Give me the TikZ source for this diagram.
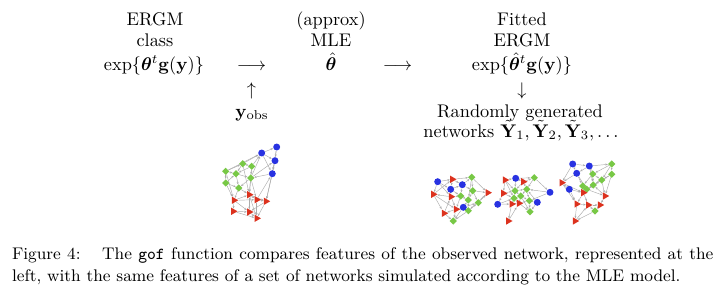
\RequirePackage{fix-cm}
\documentclass[tikz,border=0pt]{standalone}
\usepackage{amsmath,bm}
\usetikzlibrary{shapes.geometric,arrows.meta,backgrounds}
\definecolor{nblue}{RGB}{40,50,225}
\definecolor{ngreen}{RGB}{120,200,70}
\definecolor{nred}{RGB}{220,50,30}
\tikzset{
  bn/.style={circle,fill=nblue,inner sep=0pt,minimum size=3.8pt},
  gn/.style={diamond,fill=ngreen,inner sep=0pt,minimum size=4.1pt},
  rn/.style={regular polygon,regular polygon sides=3,shape border rotate=-90,fill=nred,inner sep=0pt,minimum size=4.6pt},
  netedge/.style={draw=gray!65,line width=0.25pt,-{Stealth[length=1.4pt,width=1.1pt]}},
  lbl/.style={inner sep=0pt,anchor=base},
  captxt/.style={inner sep=0pt,anchor=base west,font=\fontsize{9.2}{11}\selectfont},
}
\begin{document}
\begin{tikzpicture}[x=0.5464pt,y=-0.5464pt]
\useasboundingbox (0,0) rectangle (720,298);
% ---- text rows
\node[lbl] (c1a) at (155,25) {ERGM};
\node[lbl] (c1b) at (155,46.7) {class};
\node[lbl] (c1c) at (154,70) {$\exp\{\bm{\theta}^t\mathbf{g}(\mathbf{y})\}$};
\node[lbl] (ar1) at (251.5,70) {$\longrightarrow$};
\node[lbl] (up1) at (251.5,95) {$\uparrow$};
\node[lbl] (yobs) at (252,117) {$\mathbf{y}_{\mathrm{obs}}$};
\node[lbl] (c2a) at (331,25) {(approx)};
\node[lbl] (c2b) at (331,46.7) {MLE};
\node[lbl] (c2c) at (331,70) {$\hat{\bm{\theta}}$};
\node[lbl] (ar2) at (397.5,70) {$\longrightarrow$};
\node[lbl] (c3a) at (522,25) {Fitted};
\node[lbl] (c3b) at (522,46.7) {ERGM};
\node[lbl] (c3c) at (522,70) {$\exp\{\hat{\bm{\theta}}^t\mathbf{g}(\mathbf{y})\}$};
\node[lbl] (dn3) at (522,95) {$\downarrow$};
\node[lbl] (c3d) at (520,117) {Randomly generated};
\node[lbl] (c3e) at (521,137) {networks $\tilde{\mathbf{Y}}_1,\tilde{\mathbf{Y}}_2,\tilde{\mathbf{Y}}_3,\ldots$};
% ---- caption
\node[captxt] (cap1) at (11.7,259.5) {\makebox[383.2pt][s]{Figure 4:\hspace{7pt} The \texttt{gof} function compares features of the observed network, represented at the}};
\node[captxt] (cap2) at (11.7,281.5) {left, with the same features of a set of networks simulated according to the MLE model.};
% ---- observed network
\foreach \n/\x/\y in {L1/261.7/153,L2/276.7/147,L3/275/160.7,L4/272.3/173.7}
  \node[bn] (\n) at (\x,\y) {};
\foreach \n/\x/\y in {L5/242.7/163.7,L6/251.7/166.3,L7/225.7/171.3,L8/236/173.7,L9/250.7/178,L10/225.7/183,L11/238.7/188}
  \node[gn] (\n) at (\x,\y) {};
\foreach \n/\x/\y in {L12/234/200.3,L13/249.3/194.7,L14/256.7/199.7,L15/266/201.3,L16/233.3/211.3,L17/249.3/212,L18/256.7/218.3}
  \node[rn] (\n) at (\x,\y) {};
% ---- simulated network A
\foreach \n/\x/\y in {A1/437.7/181.7,A2/450.7/189.3,A3/462.3/184.7,A4/463.3/207.3}
  \node[bn] (\n) at (\x,\y) {};
\foreach \n/\x/\y in {A5/452.3/179.3,A6/433.3/194.3,A7/451/196.7,A8/456/209.3,A9/444/213.3,A10/487.7/192.7}
  \node[rn] (\n) at (\x,\y) {};
\foreach \n/\x/\y in {A11/471.7/177.3,A12/472.7/190.7,A13/460.7/196,A14/468.3/200,A15/478.3/202.7,A16/468.3/210.7,A17/453.3/221}
  \node[gn] (\n) at (\x,\y) {};
% ---- simulated network B
\foreach \n/\x/\y in {B1/505/180,B2/503.3/193.3,B3/523.3/181.7,B4/511.7/204,B5/508.3/221,B6/519/203.3}
  \node[rn] (\n) at (\x,\y) {};
\foreach \n/\x/\y in {B7/515.7/178.3,B8/497.7/204.3,B9/537.3/202.3,B10/550/192.3}
  \node[bn] (\n) at (\x,\y) {};
\foreach \n/\x/\y in {B11/534.3/177.7,B12/515/190.7,B13/526.7/189.3,B14/520.7/196,B15/514/198.3,B16/529.3/200.7,B17/530/211.7}
  \node[gn] (\n) at (\x,\y) {};
% ---- simulated network C
\foreach \n/\x/\y in {C1/572.7/164,C2/589.3/166,C3/576.7/173.3,C4/569.3/189.3}
  \node[bn] (\n) at (\x,\y) {};
\foreach \n/\x/\y in {C5/611.7/164,C6/611.7/174.3,C7/592.7/174,C8/601.7/180,C9/593.3/185,C10/586.7/189.3,C11/582.7/186,C12/595/211}
  \node[gn] (\n) at (\x,\y) {};
\foreach \n/\x/\y in {C13/561.7/182.7,C14/583.3/192.7,C15/605/196,C16/576.7/204,C17/588.3/205,C18/600/205,C19/575/221}
  \node[rn] (\n) at (\x,\y) {};
% ---- edges
\begin{scope}[on background layer]
\foreach \a/\b in {L1/L2,L1/L3,L2/L3,L3/L4,L1/L4,L5/L1,L6/L1,L9/L1,L2/L4,L9/L3,L5/L6,L7/L5,L5/L8,L6/L8,L6/L9,L7/L8,L7/L10,L8/L9,L10/L8,L9/L11,L10/L11,L8/L11,L4/L9,L4/L15,L14/L4,L10/L12,L11/L12,L11/L13,L9/L13,L9/L14,L12/L13,L12/L14,L13/L14,L14/L15,L13/L15,L12/L16,L16/L17,L12/L17,L13/L17,L14/L18,L15/L18,L16/L18,L17/L18,L13/L18,L7/L12,L6/L13,L5/L13,L15/L17,L3/L15,L7/L1}
  \draw[netedge] (\a) -- (\b);
\foreach \a/\b in {A1/A5,A1/A2,A1/A6,A5/A11,A5/A3,A5/A2,A2/A3,A2/A7,A3/A11,A3/A12,A3/A13,A11/A12,A11/A10,A12/A10,A12/A15,A12/A14,A13/A14,A13/A7,A7/A6,A6/A9,A6/A8,A7/A8,A8/A9,A8/A4,A4/A14,A4/A16,A4/A15,A16/A17,A9/A17,A8/A17,A15/A10,A14/A16,A6/A5,A1/A7,A13/A8,A16/A15,A2/A13,A11/A14,A9/A7,A4/A17,A10/A16}
  \draw[netedge] (\a) -- (\b);
\foreach \a/\b in {B1/B7,B7/B11,B7/B3,B1/B2,B1/B12,B3/B11,B3/B13,B11/B10,B11/B13,B12/B13,B12/B14,B12/B15,B13/B16,B13/B14,B14/B16,B15/B14,B2/B15,B2/B8,B8/B4,B8/B15,B4/B6,B4/B15,B6/B14,B6/B16,B16/B9,B9/B17,B16/B17,B4/B5,B6/B17,B10/B13,B10/B16,B1/B15,B2/B12,B3/B12,B7/B12,B6/B15,B5/B6,B14/B17,B9/B13}
  \draw[netedge] (\a) -- (\b);
\foreach \a/\b in {C1/C2,C1/C3,C2/C3,C2/C7,C1/C13,C3/C13,C3/C11,C2/C5,C5/C6,C5/C7,C5/C8,C6/C8,C7/C8,C7/C9,C8/C9,C9/C10,C10/C11,C7/C11,C8/C10,C6/C15,C4/C13,C4/C14,C4/C16,C13/C14,C11/C14,C14/C17,C14/C16,C16/C17,C17/C18,C15/C18,C15/C9,C18/C12,C17/C12,C16/C19,C19/C17,C12/C19,C10/C15,C3/C10,C2/C9,C13/C16,C8/C15,C9/C14,C6/C9}
  \draw[netedge] (\a) -- (\b);
\end{scope}
\end{tikzpicture}
\end{document}
